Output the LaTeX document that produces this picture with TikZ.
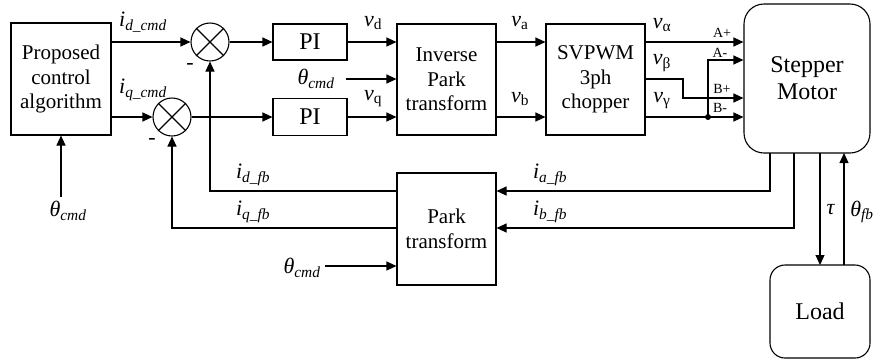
\documentclass[tikz,border=0pt]{standalone}
\usepackage{fontspec}
\setmainfont{Liberation Serif}
\usetikzlibrary{arrows.meta}
\newcommand\isub[2]{\textit{#1}\textsubscript{\textit{#2}}}
\newcommand\usub[2]{\textit{#1}\textsubscript{#2}}
\begin{document}
\begin{tikzpicture}[x=1pt,y=-1pt,line width=1.1pt,
  box/.style={draw,align=center,inner sep=0pt,font=\fontsize{21}{24.5}\selectfont},
  bigbox/.style={box,font=\fontsize{24}{27}\selectfont},
  sumj/.style={draw,circle,minimum size=38pt,inner sep=0pt},
  arr/.style={-{Triangle[length=10pt,width=9pt]}},
  lab/.style={inner sep=0pt,font=\fontsize{22}{24}\selectfont},
  small/.style={inner sep=0pt,font=\fontsize{14}{16}\selectfont}]
\useasboundingbox (0,0) rectangle (877,360);
% blocks
\node[box,minimum width=100pt,minimum height=112pt] (prop) at (61,79) {Proposed\\control\\algorithm};
\node[sumj] (s1) at (210,42) {};
\node[sumj] (s2) at (172,117) {};
\draw (s1.north west) -- (s1.south east) (s1.north east) -- (s1.south west);
\draw (s2.north west) -- (s2.south east) (s2.north east) -- (s2.south west);
\node[bigbox,minimum width=74pt,minimum height=36pt] (pi1) at (310,42) {PI};
\node[bigbox,minimum width=74pt,minimum height=37pt] (pi2) at (310,117) {PI};
\node[box,minimum width=99pt,minimum height=111pt] (ipark) at (446.5,79.5) {Inverse\\Park\\transform};
\node[box,minimum width=99pt,minimum height=111pt] (svpwm) at (595.5,79.5) {SVPWM\\3ph\\chopper};
\node[bigbox,draw,rounded corners=20pt,minimum width=126pt,minimum height=149pt] (motor) at (807,78.5) {Stepper\\Motor};
\node[box,minimum width=99pt,minimum height=112pt] (park) at (446.5,229) {Park\\transform};
\node[bigbox,draw,rounded corners=15pt,minimum width=100pt,minimum height=93pt] (load) at (820,311.5) {Load};
% labels
\node[lab] (lidc) at (143,22) {\isub{i}{d\_cmd}};
\node[lab] (liqc) at (143,90) {\isub{i}{q\_cmd}};
\node[lab] (th1) at (68,211) {\isub{θ}{cmd}};
\node[lab] (th2) at (316,79) {\isub{θ}{cmd}};
\node[lab] (th3) at (302,268) {\isub{θ}{cmd}};
\node[lab] (lvd) at (373,23) {\usub{v}{d}};
\node[lab] (lvq) at (373,99) {\usub{v}{q}};
\node[lab] (lva) at (520,23) {\usub{v}{a}};
\node[lab] (lvb) at (520,99) {\usub{v}{b}};
\node[lab] (lval) at (662,25) {\usub{v}{α}};
\node[lab] (lvbe) at (662,63) {\usub{v}{β}};
\node[lab] (lvga) at (662,101) {\usub{v}{γ}};
\node[small] (lap) at (722,33) {A+};
\node[small] (lam) at (720,53) {A-};
\node[small] (lbp) at (722,89) {B+};
\node[small] (lbm) at (720,108) {B-};
\node[lab] (m1) at (190,66) {-};
\node[lab] (m2) at (152,141) {-};
\node[lab] (lidf) at (253,175) {\isub{i}{d\_fb}};
\node[lab] (liqf) at (253,212) {\isub{i}{q\_fb}};
\node[lab] (liaf) at (550,175) {\isub{i}{a\_fb}};
\node[lab] (libf) at (550,212) {\isub{i}{b\_fb}};
\node[lab] (ltau) at (831,210) {\textit{τ}};
\node[lab] (lthf) at (862,212) {\isub{θ}{fb}};
% coordinates
\coordinate (th1a) at (61,197);
\coordinate (vb1) at (683,79);
\coordinate (vb2) at (683,98);
\coordinate (dot) at (708,117);
\coordinate (am) at (708,60);
\coordinate (mb1) at (770,153);
\coordinate (mb1b) at (770,191);
\coordinate (mb2) at (794,153);
\coordinate (mb2b) at (794,228);
\coordinate (tau1) at (820,153);
\coordinate (tau2) at (820,265);
\coordinate (thf1) at (844,265);
\coordinate (thf2) at (844,153);
\coordinate (fbd) at (210,191);
\coordinate (fbq) at (172,228);
% connectors
\draw[arr] (th1a) -- (prop.south);
\draw[arr] (prop.east |- s1) -- (s1.west);
\draw[arr] (prop.east |- s2) -- (s2.west);
\draw[arr] (s1.east) -- (pi1.west);
\draw[arr] (s2.east) -- (pi2.west);
\draw[arr] (pi1.east) -- (ipark.west |- pi1);
\draw[arr] (pi2.east) -- (ipark.west |- pi2);
\draw[arr] (346,79) -- (ipark.west |- th2);
\draw[arr] (ipark.east |- pi1) -- (svpwm.west |- pi1);
\draw[arr] (ipark.east |- pi2) -- (svpwm.west |- pi2);
\draw[arr] (svpwm.east |- pi1) -- (motor.west |- pi1);
\draw[arr] (svpwm.east |- pi2) -- (motor.west |- pi2);
\draw[arr] (svpwm.east |- vb1) -- (vb1) -- (vb2) -- (motor.west |- vb2);
\draw[arr] (dot) -- (am) -- (motor.west |- am);
\fill (dot) circle (3pt);
\draw[arr] (mb1) -- (mb1b) -- (park.east |- mb1b);
\draw[arr] (mb2) -- (mb2b) -- (park.east |- mb2b);
\draw[arr] (tau1) -- (tau2);
\draw[arr] (thf1) -- (thf2);
\draw[arr] (park.west |- fbd) -- (fbd) -- (s1.south);
\draw[arr] (park.west |- fbq) -- (fbq) -- (s2.south);
\draw[arr] (th3.east) ++(4,-2) coordinate (th3s) -- (park.west |- th3s);
\end{tikzpicture}
\end{document}
